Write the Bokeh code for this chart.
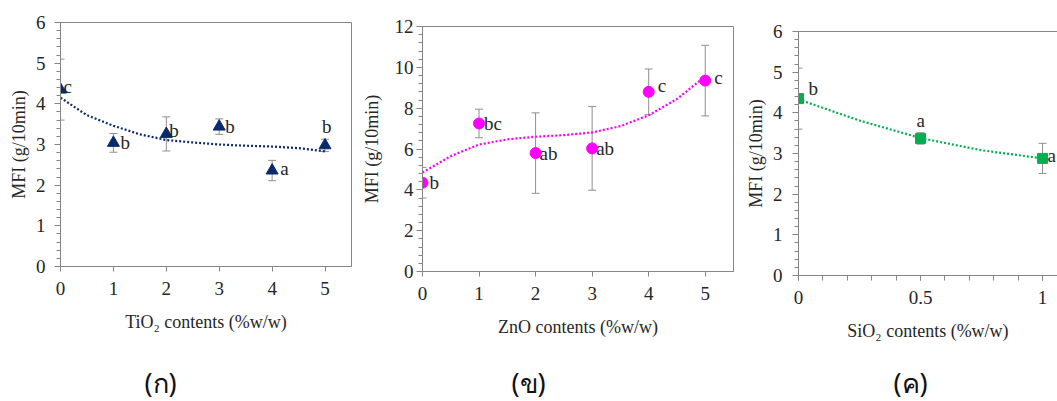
from jinja2 import Template
from bokeh.plotting import figure
from bokeh.models import (ColumnDataSource, Whisker, TeeHead, SingleIntervalTicker,
                          FixedTicker, LinearAxis, Title)
from bokeh.embed import file_html
from bokeh.resources import INLINE
from bokeh.core.properties import value

# ---------------- data ----------------
tio2_x = [0, 1, 2, 3, 4, 5]
tio2_mfi = [4.35, 3.04, 3.26, 3.44, 2.36, 2.98]
tio2_err = [0.75, 0.23, 0.42, 0.19, 0.25, 0.15]
tio2_letters = ["c", "b", "b", "b", "a", "b"]
tio2_trend_x = [0, 0.5, 1, 1.5, 2, 2.5, 3, 3.5, 4, 4.5, 5]
tio2_trend_y = [4.15, 3.72, 3.46, 3.25, 3.11, 3.05, 3.0, 2.97, 2.95, 2.91, 2.83]

zno_x = [0, 1, 2, 3, 4, 5]
zno_mfi = [4.35, 7.25, 5.8, 6.03, 8.8, 9.35]
zno_err = [0.75, 0.7, 1.97, 2.05, 1.12, 1.73]
zno_letters = ["b", "bc", "ab", "ab", "c", "c"]
zno_trend_x = [0, 0.5, 1, 1.5, 2, 2.5, 3, 3.5, 4, 4.5, 5]
zno_trend_y = [4.85, 5.65, 6.22, 6.47, 6.6, 6.68, 6.81, 7.12, 7.65, 8.45, 9.56]

sio2_x = [0, 0.5, 1]
sio2_mfi = [4.35, 3.37, 2.88]
sio2_err = [0.75, 0.14, 0.37]
sio2_letters = ["b", "a", "a"]
sio2_trend_x = [0, 0.25, 0.5, 0.75, 1]
sio2_trend_y = [4.33, 3.81, 3.38, 3.08, 2.88]

captions = ["(ก)", "(ข)", "(ค)"]
x_titles = ["TiO\u2082 contents (%w/w)", "ZnO contents (%w/w)", "SiO\u2082 contents (%w/w)"]
y_title = "MFI (g/10min)"

# ---------------- styling ----------------
SERIF = "Liberation Serif"
AX = "#868686"
ERR = "#8f8f8f"
TXT = "#262626"


def style_axis(ax, label_standoff, major_out=6, minor_out=4):
    ax.axis_line_color = AX
    ax.major_tick_line_color = AX
    ax.minor_tick_line_color = AX
    ax.major_tick_out = major_out
    ax.major_tick_in = 0
    ax.minor_tick_out = minor_out
    ax.minor_tick_in = 0
    ax.major_label_text_font = SERIF
    ax.major_label_text_font_size = "19px"
    ax.major_label_text_color = TXT
    ax.axis_label_text_font = SERIF
    ax.axis_label_text_font_size = "18px"
    ax.axis_label_text_font_style = "normal"
    ax.axis_label_text_color = TXT
    ax.axis_label_standoff = label_standoff


def panel(width, bl, br, bt, bb, x_end, y_end, x_interval, x_minor, y_interval,
          xs, ys, errs, letters, dxs, dys, tx, ty, marker, msize, color,
          x_title, caption, cap_offset, spacer, y_lab_standoff, y_title_standoff,
          outline=True, x_overrides=None):
    p = figure(width=width, height=401, x_range=(0, x_end), y_range=(0, y_end),
               output_backend="svg", toolbar_location=None,
               min_border_left=bl, min_border_right=br, min_border_top=bt,
               min_border_bottom=bb, background_fill_color="white",
               border_fill_color="white",
               outline_line_color=AX if outline else None)
    p.grid.visible = False
    p.xaxis.ticker = SingleIntervalTicker(interval=x_interval, num_minor_ticks=x_minor)
    p.yaxis.ticker = SingleIntervalTicker(interval=y_interval, num_minor_ticks=5)
    style_axis(p.xaxis[0], 14, major_out=5, minor_out=5)
    style_axis(p.yaxis[0], y_title_standoff)
    p.xaxis.major_label_standoff = 10
    p.yaxis.major_label_standoff = y_lab_standoff
    p.xaxis.axis_label = x_title
    p.yaxis.axis_label = y_title
    if x_overrides:
        p.xaxis.major_label_overrides = x_overrides
    if not outline:
        top = LinearAxis(ticker=FixedTicker(ticks=[]), axis_line_color=AX,
                         major_label_text_font_size="0px")
        p.add_layout(top, "above")

    # blank spacer, then the panel caption, below the x axis
    p.add_layout(Title(text=" ", text_font_size="10px", standoff=spacer), "below")
    p.add_layout(Title(text=caption, text_font="Noto Sans", text_font_size="27px",
                       text_font_style="normal", text_color="#111111",
                       align="left", offset=cap_offset, standoff=0,
                       vertical_align="middle"), "below")

    src = ColumnDataSource(dict(
        x=xs, y=ys,
        upper=[m + e for m, e in zip(ys, errs)],
        lower=[m - e for m, e in zip(ys, errs)],
        label=letters, dx=dxs, dy=dys))
    p.add_layout(Whisker(source=src, base="x", upper="upper", lower="lower",
                         line_color=ERR, line_width=1,
                         upper_head=TeeHead(size=8, line_color=ERR, line_width=1),
                         lower_head=TeeHead(size=8, line_color=ERR, line_width=1)))
    p.line(tx, ty, line_color=color, line_width=2.2, line_dash="2 2")
    p.scatter("x", "y", source=src, marker=marker, size=msize,
              fill_color=color, line_color=color)
    p.text(x="x", y="y", text="label", source=src, x_offset="dx", y_offset="dy",
           text_font=value(SERIF), text_font_size="19px", text_color=TXT,
           text_align="left", text_baseline="middle")
    return p


p1 = panel(358, 60, 7, 22, 134, 5.5, 6, 1, 0, 1,
           tio2_x, tio2_mfi, tio2_err, tio2_letters,
           [3, 7, 3, 6, 8, -3], [-3, 0, -3, 0, -2, -19],
           tio2_trend_x, tio2_trend_y, "triangle", 12, "#0b2a6b",
           x_titles[0], captions[0], 84, 15, 9, 4)

p2 = panel(384, 62, 9, 26, 129, 5.5, 12, 1, 0, 2,
           zno_x, zno_mfi, zno_err, zno_letters,
           [7, 5, 4, 4, 9, 9], [0, 0, 0, 0, -6, -3],
           zno_trend_x, zno_trend_y, "circle", 11, "#ff00ff",
           x_titles[1], captions[1], 89, 10, 3, 10)

p3 = panel(315, 55, 0, 31, 125, 260 / 245, 6, 0.5, 5, 1,
           sio2_x, sio2_mfi, sio2_err, sio2_letters,
           [10, -4, 5], [-10, -18, -3],
           sio2_trend_x, sio2_trend_y, "square", 10, "#00b050",
           x_titles[2], captions[2], 95, 6, 10, 4, outline=False,
           x_overrides={0: "0", 0.5: "0.5", 1: "1"})

# three independent roots side by side (no frame alignment between panels)
PAGE = Template(
    "{% extends base %}"
    "{% block postamble %}<style>body{display:flex !important;flex-direction:row;"
    "align-items:flex-start;margin:0;overflow:hidden;}</style>{% endblock %}")

html = file_html([p1, p2, p3], INLINE, template=PAGE)
open("out.html", "w").write(html)
